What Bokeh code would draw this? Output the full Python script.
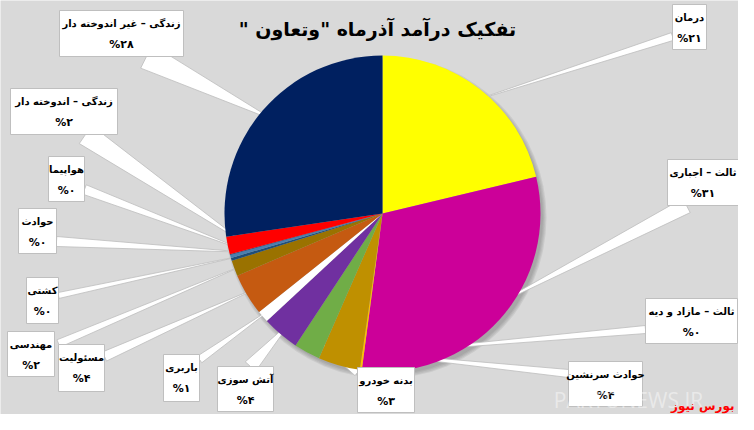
import math
import numpy as np
from bokeh.plotting import figure
from bokeh.models import Range1d, ColumnDataSource
from bokeh.core.properties import value
from bokeh.embed import file_html
from bokeh.resources import INLINE

# ---------------- data ----------------
title_text = 'تفکیک درآمد آذرماه "وتعاون "\u200f'
names = ["درمان", "ثالث – اجباری", "ثالث – مازاد و دیه", "حوادث سرنشین",
         "بدنه خودرو", "آتش سوزی", "باربری", "مسئولیت", "مهندسی", "کشتی",
         "حوادث", "هواپیما", "زندگی – اندوخته دار", "زندگی – غیر اندوخته دار"]
values = [21.3, 30.9, 0.2, 4.3, 2.7, 3.8, 1.2, 4.3, 1.6, 0.3, 0.3, 0.1, 1.8, 27.4]
pct_labels = ["%۲۱", "%۳۱", "%۰", "%۴", "%۳", "%۴", "%۱", "%۴", "%۲", "%۰",
              "%۰", "%۰", "%۲", "%۲۸"]
colors = ["#FFFF00", "#CC0099", "#FFC000", "#BF9000", "#70AD47", "#7030A0",
          "#FFFFFF", "#C55A11", "#9A7200", "#1F4E79", "#4A7FB0", "#264478",
          "#FF0000", "#002060"]

# ---------------- layout (reference pixel coords, y downward) ----------------
BG = "#d9d9d9"
CX, CY, R = 382, 213, 158
# label boxes: left, top, right, bottom
boxes = [(672, 4, 706, 49), (667, 159, 738, 205), (645, 298, 737, 343),
         (568, 361, 642, 406), (357, 367, 414, 412), (217, 366, 273, 411),
         (163, 354, 199, 401), (58, 344, 104, 391), (7, 331, 54, 376),
         (26, 277, 58, 323), (18, 208, 56, 253), (48, 156, 84, 201),
         (10, 88, 117, 134), (59, 10, 183, 56)]
# leader base on box: x, y, half width
anchors = [(672, 36, 4), (686, 205, 8), (645, 329, 4), (568, 373, 4),
           (357, 372, 4), (250, 366, 7), (199, 359, 4), (104, 356, 5),
           (58, 343, 4), (58, 295, 3), (56, 241, 5), (84, 189, 5),
           (85, 134, 11), (146, 56, 13)]
draw_order = [0, 1, 2, 3, 4, 5, 6, 8, 7, 9, 10, 11, 12, 13]


def Y(ys):
    return 430 - ys


p = figure(width=738, height=414, output_backend="svg", toolbar_location=None,
           x_range=Range1d(0, 738), y_range=Range1d(16, 430),
           min_border=0, background_fill_color=BG, border_fill_color=BG)
p.axis.visible = False
p.grid.visible = False
p.outline_line_color = None

# ---------------- pie geometry ----------------
vals = np.array(values, dtype=float)
frac = vals / vals.sum()
cum_end = np.cumsum(frac)
cum_start = cum_end - frac
mid = (cum_start + cum_end) / 2
start_angle = np.pi / 2 - 2 * np.pi * cum_start
end_angle = np.pi / 2 - 2 * np.pi * cum_end

# shadow
for k in range(4):
    p.circle(x=CX + 3, y=Y(CY) - 4, radius=R + 3 - k * 1.2,
             fill_color="#505050", fill_alpha=0.10, line_color=None)

# leaders (thin white wedges from box to slice)
lx, ly = [], []
for i in range(len(names)):
    ang = 2 * np.pi * mid[i]
    px = CX + 0.9 * R * math.sin(ang)
    py = Y(CY) + 0.9 * R * math.cos(ang)
    bx, by, hw = anchors[i]
    by = Y(by)
    dx, dy = bx - px, by - py
    L = math.hypot(dx, dy)
    nx, ny = -dy / L, dx / L
    lx.append([px, bx + nx * hw, bx - nx * hw])
    ly.append([py, by + ny * hw, by - ny * hw])
p.patches(xs=lx, ys=ly, fill_color="white", line_color="#bdbdbd", line_width=0.8)

# pie
src = ColumnDataSource(dict(start=start_angle, end=end_angle, color=colors))
p.wedge(x=CX, y=Y(CY), radius=R, start_angle="start", end_angle="end",
        direction="clock", fill_color="color", line_color=None, source=src)

# label boxes
bl = [boxes[i][0] for i in draw_order]
bt = [Y(boxes[i][1]) for i in draw_order]
br = [boxes[i][2] for i in draw_order]
bb = [Y(boxes[i][3]) for i in draw_order]
p.quad(left=bl, right=br, top=bt, bottom=bb, fill_color="white",
       line_color="#bfbfbf", line_width=1)

tx = [(b[0] + b[2]) / 2 for b in boxes]
ty1 = [Y(b[1] + 13) for b in boxes]
ty2 = [Y(b[1] + 33.5) for b in boxes]
p.text(x=tx, y=ty1, text=names, text_font=value("DejaVu Sans"),
       text_font_style="bold", text_font_size="10px", text_align="center",
       text_baseline="middle", text_color="black")
p.text(x=tx, y=ty2, text=pct_labels, text_font=value("DejaVu Sans"),
       text_font_style="bold", text_font_size="11px", text_align="center",
       text_baseline="middle", text_color="black")

# title
p.text(x=[377], y=[Y(28)], text=[title_text], text_font=value("DejaVu Sans"),
       text_font_style="bold", text_font_size="19px", text_align="center",
       text_baseline="middle", text_color="black")

# watermark & source
p.text(x=[628], y=[Y(399)], text=["PARTONEWS.IR"], text_font=value("Open Sans"),
       text_font_size="21px", text_align="center", text_baseline="middle",
       text_color="white", text_alpha=0.45)
p.text(x=[734], y=[Y(405)], text=["بورس نیوز"], text_font=value("DejaVu Sans"),
       text_font_style="bold", text_font_size="12px", text_align="right",
       text_baseline="middle", text_color="#ff0000")

open("out.html", "w").write(file_html(p, INLINE))
